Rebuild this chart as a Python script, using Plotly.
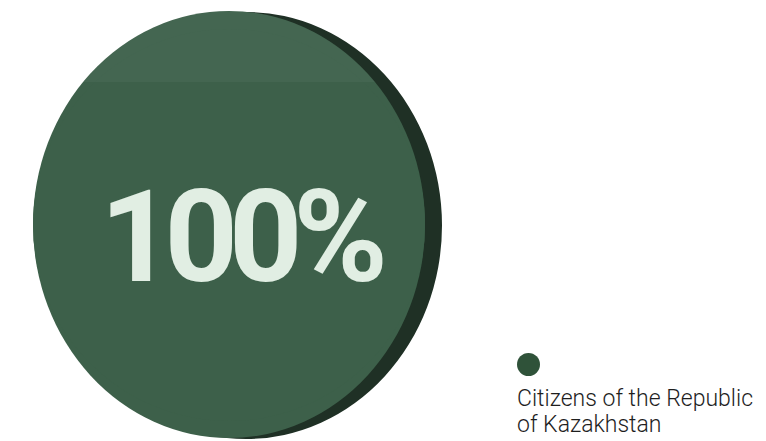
import math
import plotly.graph_objects as go

# Share of residents by group
categories = ["Citizens of the Republic of Kazakhstan"]
values = [100]
slice_colors = ["#3d604a"]
legend_lines = ["Citizens of the Republic", "of Kazakhstan"]

W, H = 766, 441

total = sum(values)
pct_text = f"{round(100 * values[0] / total)}%"

fig = go.Figure()

# Single-slice pie: the face of the disc
fig.add_trace(go.Pie(
    labels=categories,
    values=values,
    marker=dict(colors=slice_colors, line=dict(width=0)),
    textinfo="none",
    hoverinfo="label+percent",
    sort=False,
    showlegend=False,
    domain=dict(x=[33 / W, 425 / W], y=[1 - 421 / H, 1 - 29 / H]),
))

# Invisible pixel-based axes for decorations
fig.add_trace(go.Scatter(x=[0, W], y=[0, H], mode="markers",
                         marker=dict(opacity=0), hoverinfo="skip", showlegend=False))


def cap_path(cx, cy, rx, ry, y_cut, n=60):
    """Closed path of the ellipse segment lying above the chord y = y_cut."""
    t0 = math.asin((cy - y_cut) / ry)
    pts = []
    for k in range(n + 1):
        t = t0 + (math.pi - 2 * t0) * k / n
        pts.append((cx + rx * math.cos(t), cy - ry * math.sin(t)))
    return "M " + " L ".join(f"{x:.1f},{y:.1f}" for x, y in pts) + " Z"


shapes = [
    # dark rim of the disc, seen behind the face
    dict(type="circle", xref="x", yref="y", x0=50, x1=442, y0=12, y1=439,
         fillcolor="#1f3025", line=dict(width=0), layer="below"),
    # elliptical face body
    dict(type="circle", xref="x", yref="y", x0=33, x1=425, y0=11, y1=438,
         fillcolor=slice_colors[0], line=dict(width=0), layer="below"),
    # soft highlight across the upper part of the face
    dict(type="path", xref="x", yref="y",
         path=cap_path(229, 224.5, 196, 213.5, 82),
         fillcolor="rgba(255,255,255,0.04)", line=dict(width=0), layer="above"),
    # legend dot
    dict(type="circle", xref="x", yref="y", x0=517, x1=540, y0=353, y1=376,
         fillcolor="#2f5239", line=dict(width=0)),
]

annotations = [
    dict(x=241, y=237, xref="x", yref="y",
         text=f"<span style='letter-spacing:-9px'>{pct_text}</span>",
         showarrow=False,
         font=dict(family="Roboto", size=128, color="#e1eee3", weight=700),
         xanchor="center", yanchor="middle"),
]
for i, line in enumerate(legend_lines):
    annotations.append(dict(
        x=515, y=414 + 26 * i, xref="x", yref="y", text=line,
        showarrow=False, align="left", xanchor="left", yanchor="bottom",
        font=dict(family="Roboto", size=23, color="#1e1e1e", weight=300),
    ))

fig.update_layout(
    width=W, height=H,
    margin=dict(l=0, r=0, t=0, b=0),
    paper_bgcolor="white", plot_bgcolor="rgba(0,0,0,0)",
    xaxis=dict(range=[0, W], visible=False, fixedrange=True),
    yaxis=dict(range=[H, 0], visible=False, fixedrange=True),
    shapes=shapes,
    annotations=annotations,
)

fig.write_html("out.html")
